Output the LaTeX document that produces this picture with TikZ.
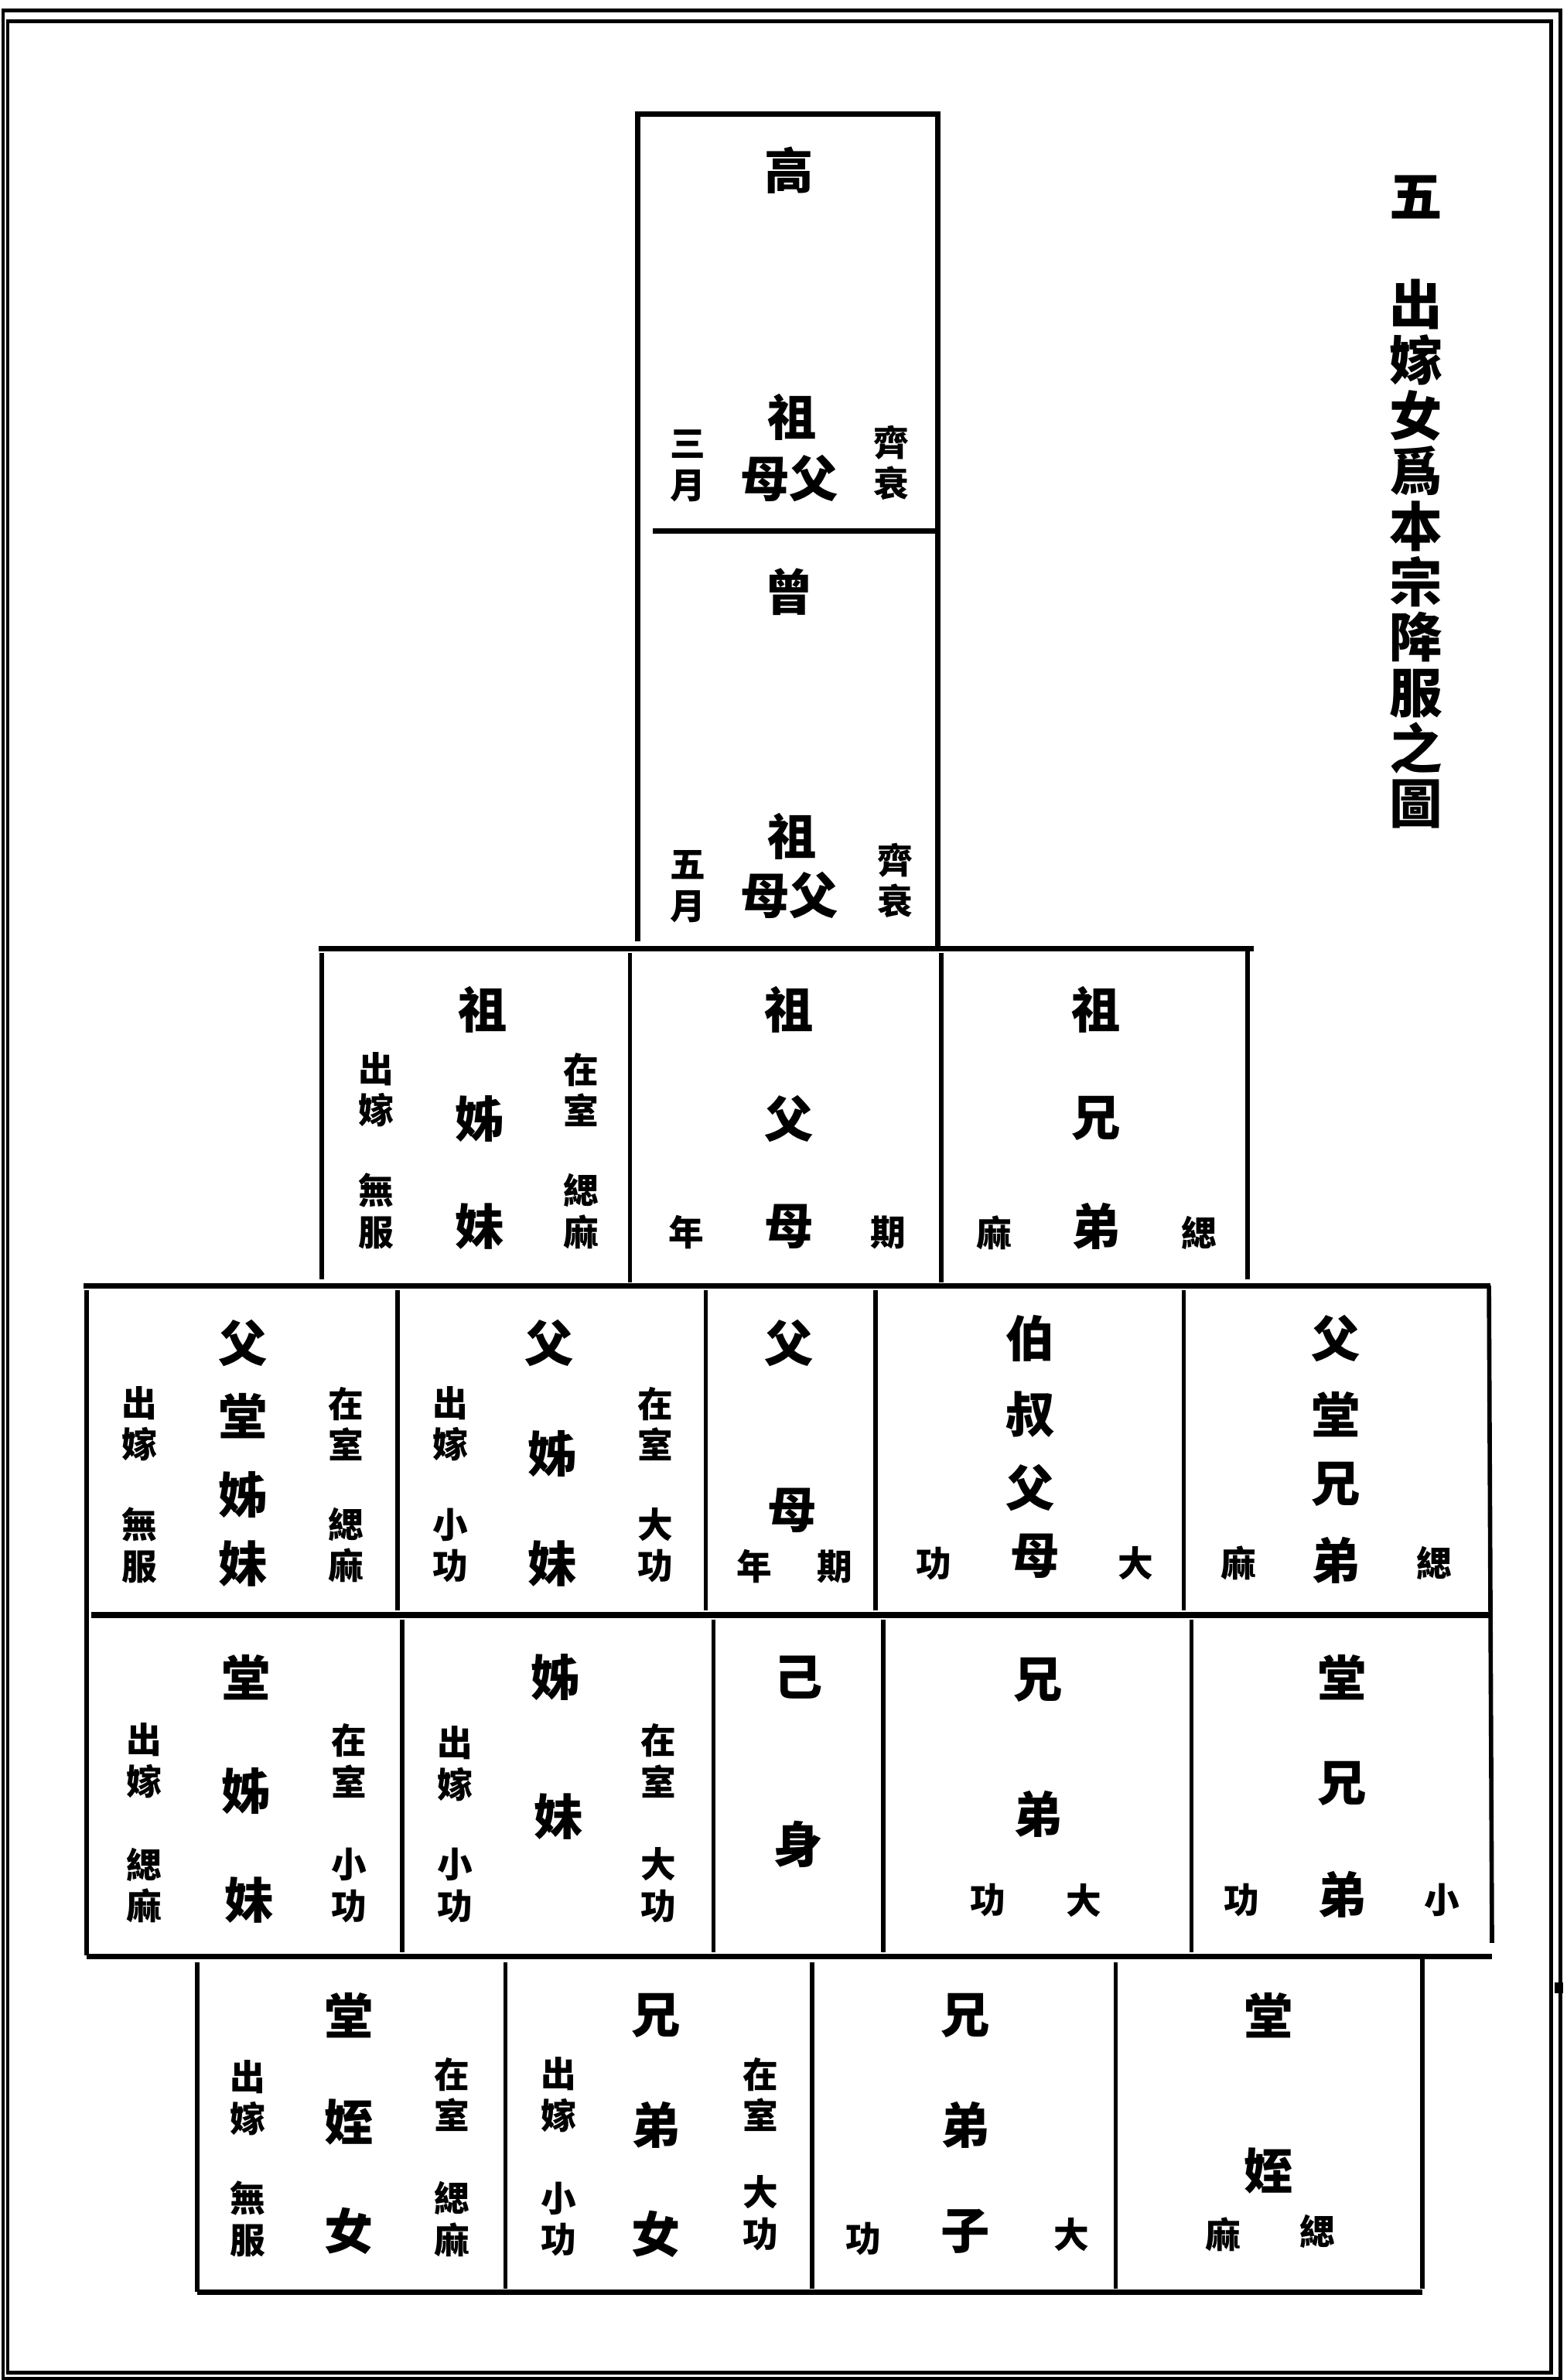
\documentclass[tikz,border=0pt]{standalone}
\usepackage{fontspec}
\newfontfamily\cjk{Noto Sans CJK TC}
\tikzset{
  big/.style={font=\cjk\bfseries\fontsize{18}{18}\selectfont, inner sep=0pt},
  small/.style={font=\cjk\bfseries\fontsize{13}{15.2}\selectfont, align=center, inner sep=0pt},
  heading/.style={font=\cjk\bfseries\fontsize{19.5}{20.4}\selectfont, align=center, inner sep=0pt},
  rule/.style={line width=2pt},
  sep/.style={line width=1.6pt},
  frame/.style={line width=1.3pt},
}
\begin{document}
\begin{tikzpicture}[x=0.019622cm, y=-0.019622cm]
\useasboundingbox (0,0) rectangle (1032,1568);
% page frame
\draw[frame] (2,7) rectangle (1028,1567);
\draw[frame] (5,14) rectangle (1022,1563);
\fill (1024,1306) rectangle (1030,1313);
%
% title
\node[heading] (ti1) at (933,130) {五};
\node[heading] (ti2) at (933,365) {出\\嫁\\女\\爲\\本\\宗\\降\\服\\之\\圖};
%
% tower
\draw[rule] (420,620) -- (420,75) -- (618,75) -- (618,625);
\draw[rule] (430,350) -- (618,350);
\node[big] (gz1) at (520,112) {高};
\node[big] (gz2) at (522,275) {祖};
\node[big] (gz3) at (520,315) {母父};
\node[small] (gz4) at (453,307) {三\\月};
\node[small] (gz5) at (587,305) {齊\\衰};
\node[big] (zz1) at (520,390) {曾};
\node[big] (zz2) at (522,551) {祖};
\node[big] (zz3) at (520,590) {母父};
\node[small] (zz4) at (453,584) {五\\月};
\node[small] (zz5) at (590,580) {齊\\衰};
%
% row of the grandparents
\draw[rule] (210,625) -- (826,625);
\draw[sep] (212,628) -- (212,843);
\draw[sep] (415,628) -- (415,845);
\draw[sep] (620,628) -- (620,845);
\draw[sep] (822,625) -- (822,843);
\node[big] (zg1) at (318,665) {祖};
\node[big] (zg2) at (316,737) {姊};
\node[big] (zg3) at (316,808) {妹};
\node[small] (zg4) at (248,718) {出\\嫁};
\node[small] (zg5) at (383,718) {在\\室};
\node[small] (zg6) at (248,798) {無\\服};
\node[small] (zg7) at (383,798) {緦\\麻};
\node[big] (zf1) at (520,665) {祖};
\node[big] (zf2) at (520,737) {父};
\node[big] (zf3) at (520,808) {母};
\node[small] (zf4) at (452,812) {年};
\node[small] (zf5) at (585,812) {期};
\node[big] (zx1) at (722,665) {祖};
\node[big] (zx2) at (722,737) {兄};
\node[big] (zx3) at (722,808) {弟};
\node[small] (zx4) at (655,812) {麻};
\node[small] (zx5) at (790,812) {緦};
%
% row of the parents
\draw[rule] (55,847) -- (982,847);
\draw[sep] (57,850) -- (57,1288);
\draw[sep] (262,850) -- (262,1061);
\draw[sep] (465,850) -- (465,1061);
\draw[sep] (577,850) -- (577,1061);
\draw[sep] (780,850) -- (780,1061);
\draw[sep] (981,847) -- (983,1280);
\draw[rule] (60,1064) -- (982,1064);
\node[big] (tg1) at (160,885) {父};
\node[big] (tg2) at (160,933) {堂};
\node[big] (tg3) at (160,985) {姊};
\node[big] (tg4) at (160,1030) {妹};
\node[small] (tg5) at (92,938) {出\\嫁};
\node[small] (tg6) at (228,938) {在\\室};
\node[small] (tg7) at (92,1018) {無\\服};
\node[small] (tg8) at (228,1018) {緦\\麻};
\node[big] (gu1) at (362,885) {父};
\node[big] (gu2) at (364,958) {姊};
\node[big] (gu3) at (364,1030) {妹};
\node[small] (gu4) at (297,938) {出\\嫁};
\node[small] (gu5) at (432,938) {在\\室};
\node[small] (gu6) at (297,1018) {小\\功};
\node[small] (gu7) at (432,1018) {大\\功};
\node[big] (fm1) at (520,885) {父};
\node[big] (fm2) at (522,995) {母};
\node[small] (fm3) at (497,1032) {年};
\node[small] (fm4) at (550,1032) {期};
\node[big] (bs1) at (679,882) {伯};
\node[big] (bs2) at (679,932) {叔};
\node[big] (bs3) at (679,980) {父};
\node[big] (bs4) at (682,1025) {母};
\node[small] (bs5) at (615,1030) {功};
\node[small] (bs6) at (748,1030) {大};
\node[big] (tb1) at (880,882) {父};
\node[big] (tb2) at (880,932) {堂};
\node[big] (tb3) at (880,978) {兄};
\node[big] (tb4) at (880,1028) {弟};
\node[small] (tb5) at (816,1030) {麻};
\node[small] (tb6) at (945,1030) {緦};
%
% row of oneself
\draw[sep] (265,1067) -- (265,1286);
\draw[sep] (470,1067) -- (470,1286);
\draw[sep] (582,1067) -- (582,1286);
\draw[sep] (785,1067) -- (785,1286);
\draw[rule] (57,1289) -- (983,1289);
\node[big] (tz1) at (162,1105) {堂};
\node[big] (tz2) at (162,1180) {姊};
\node[big] (tz3) at (164,1252) {妹};
\node[small] (tz4) at (95,1160) {出\\嫁};
\node[small] (tz5) at (230,1160) {在\\室};
\node[small] (tz6) at (95,1242) {緦\\麻};
\node[small] (tz7) at (230,1242) {小\\功};
\node[big] (zm1) at (366,1105) {姊};
\node[big] (zm2) at (368,1197) {妹};
\node[small] (zm3) at (300,1162) {出\\嫁};
\node[small] (zm4) at (434,1160) {在\\室};
\node[small] (zm5) at (300,1242) {小\\功};
\node[small] (zm6) at (434,1242) {大\\功};
\node[big] (ji1) at (526,1105) {己};
\node[big] (ji2) at (526,1215) {身};
\node[big] (xd1) at (684,1107) {兄};
\node[big] (xd2) at (684,1195) {弟};
\node[small] (xd3) at (651,1252) {功};
\node[small] (xd4) at (714,1252) {大};
\node[big] (tx1) at (884,1105) {堂};
\node[big] (tx2) at (884,1175) {兄};
\node[big] (tx3) at (884,1248) {弟};
\node[small] (tx4) at (818,1252) {功};
\node[small] (tx5) at (950,1252) {小};
%
% row of the nephews
\draw[sep] (130,1293) -- (130,1510);
\draw[sep] (333,1293) -- (333,1508);
\draw[sep] (535,1293) -- (535,1508);
\draw[sep] (735,1293) -- (735,1508);
\draw[sep] (937,1291) -- (937,1508);
\draw[rule] (130,1510) -- (937,1510);
\node[big] (tzn1) at (230,1328) {堂};
\node[big] (tzn2) at (230,1398) {姪};
\node[big] (tzn3) at (230,1470) {女};
\node[small] (tzn4) at (163,1382) {出\\嫁};
\node[small] (tzn5) at (298,1380) {在\\室};
\node[small] (tzn6) at (163,1462) {無\\服};
\node[small] (tzn7) at (298,1462) {緦\\麻};
\node[big] (xn1) at (432,1328) {兄};
\node[big] (xn2) at (432,1400) {弟};
\node[big] (xn3) at (432,1472) {女};
\node[small] (xn4) at (368,1380) {出\\嫁};
\node[small] (xn5) at (501,1380) {在\\室};
\node[small] (xn6) at (368,1462) {小\\功};
\node[small] (xn7) at (501,1458) {大\\功};
\node[big] (xz1) at (636,1328) {兄};
\node[big] (xz2) at (636,1400) {弟};
\node[big] (xz3) at (636,1470) {子};
\node[small] (xz4) at (569,1475) {功};
\node[small] (xz5) at (706,1472) {大};
\node[big] (tzh1) at (836,1328) {堂};
\node[big] (tzh2) at (836,1430) {姪};
\node[small] (tzh3) at (806,1472) {麻};
\node[small] (tzh4) at (868,1470) {緦};
\end{tikzpicture}
\end{document}
